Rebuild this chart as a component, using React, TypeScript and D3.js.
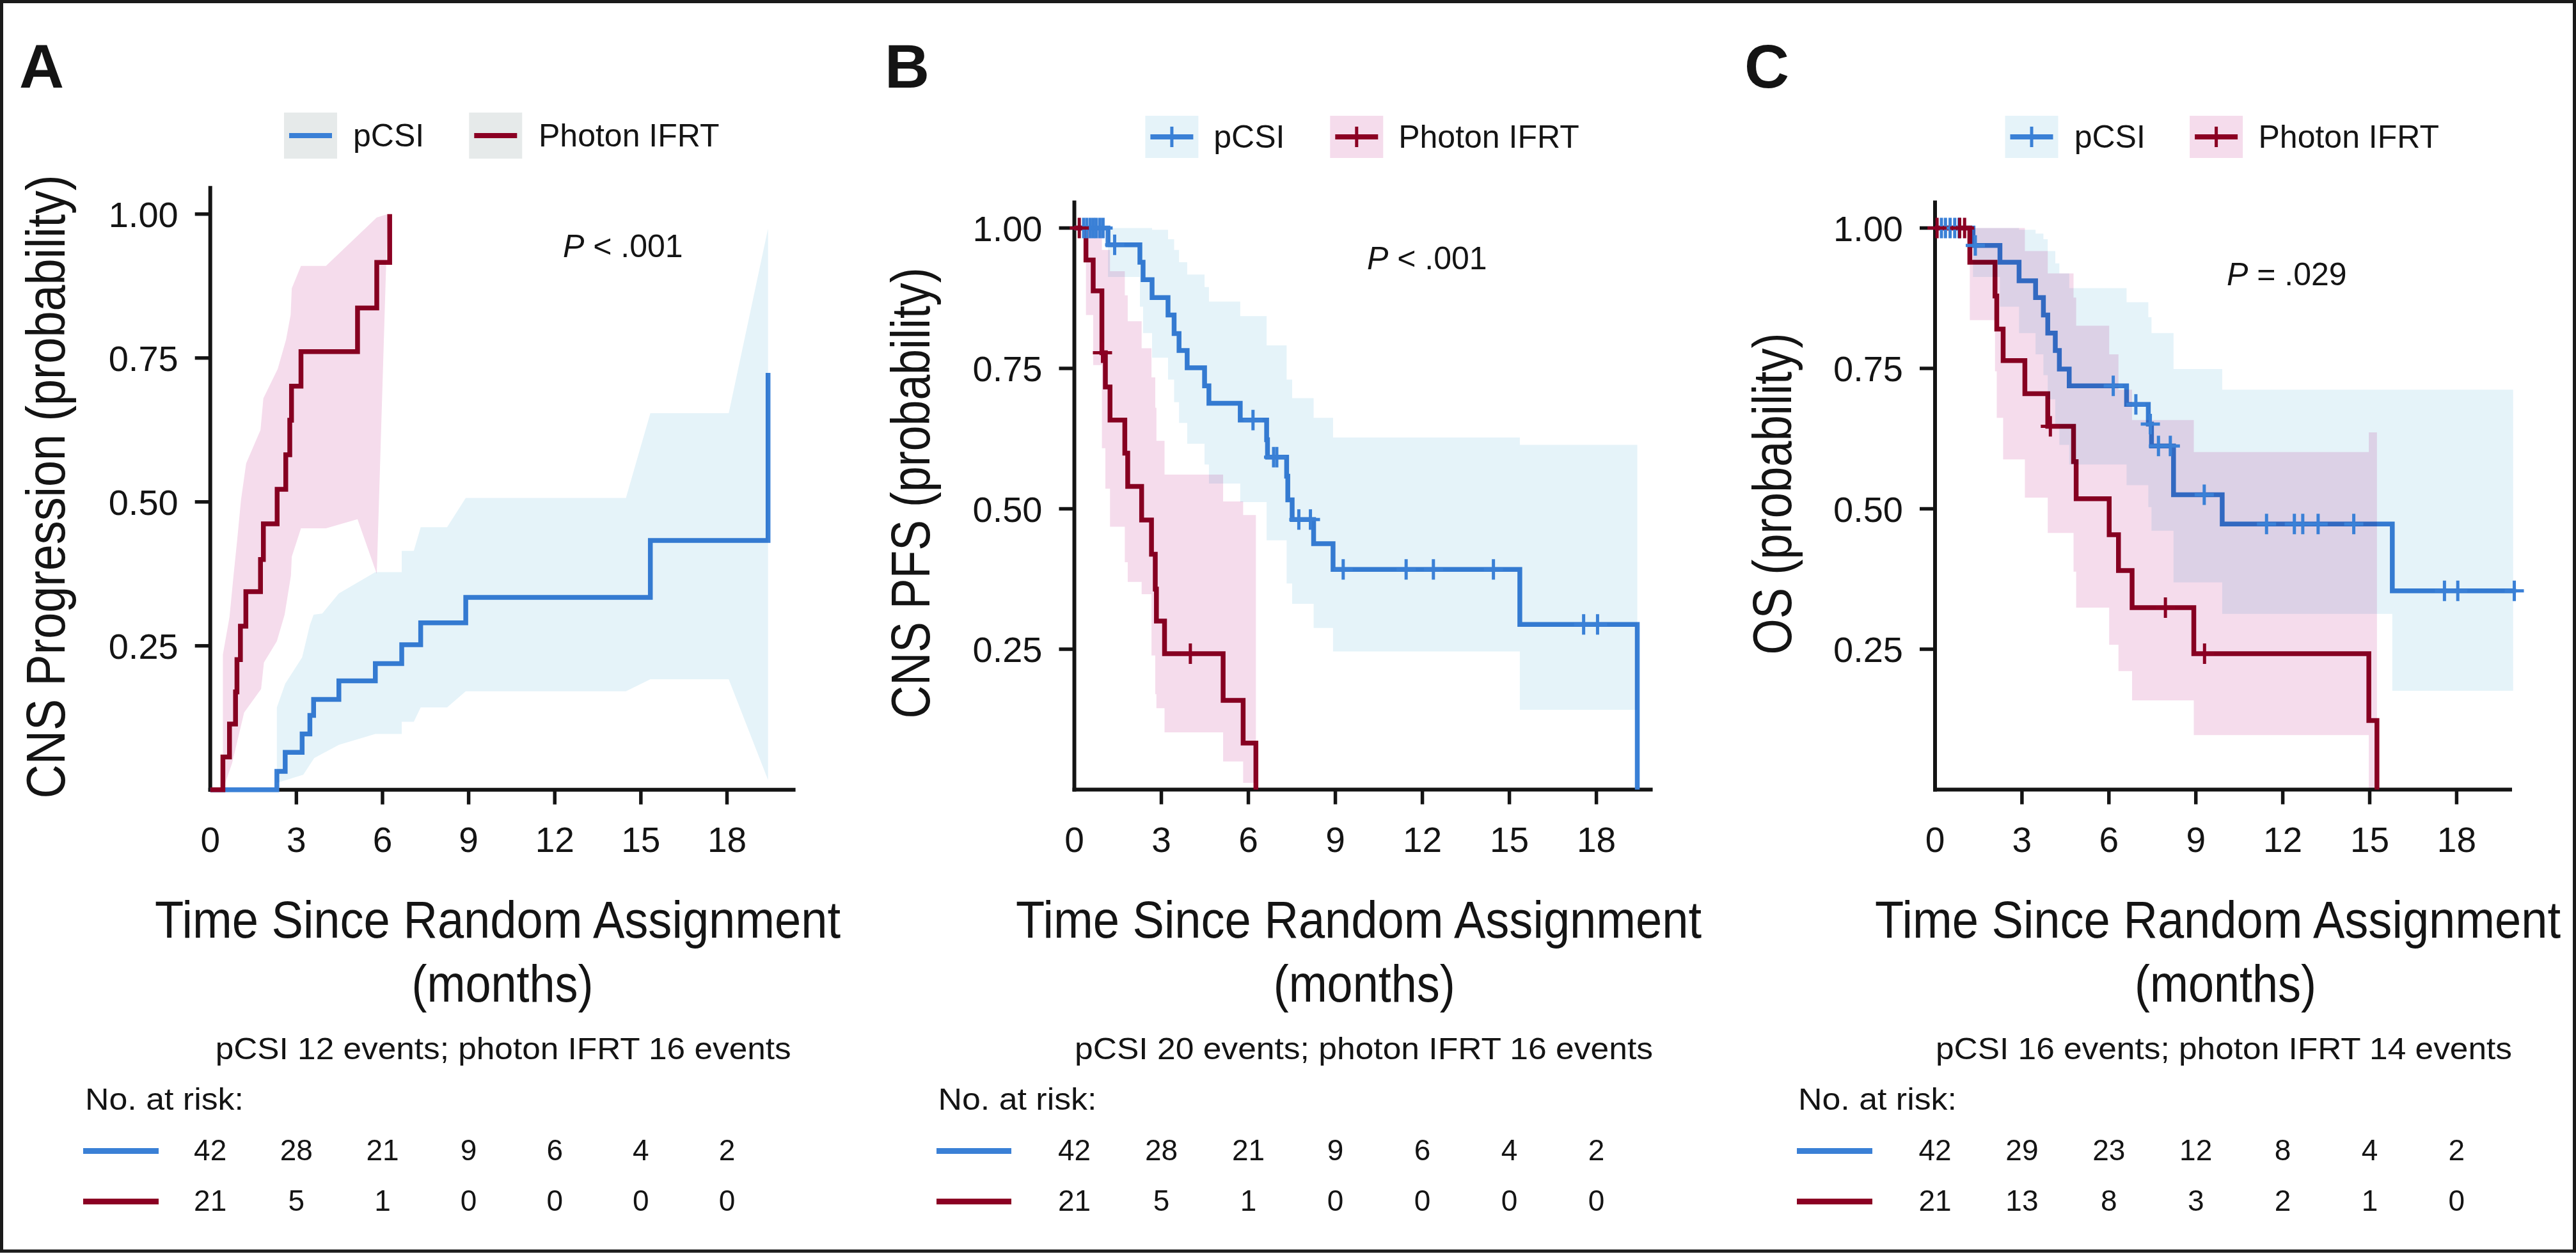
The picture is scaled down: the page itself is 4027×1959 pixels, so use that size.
import React, { useEffect } from 'react';
import * as d3 from 'd3';

type Pt = [number, number];
type Band = [number, number, number];

const BLUE = '#3a80d6';
const RED = '#8b0023';
const BAND_BLUE = '#e5f3f9';
const BAND_PINK = '#f5dcec';
const LEGEND_GRAY = '#e6eaea';
const INK = '#141414';
const FONT = '"Liberation Sans", Arial, Helvetica, sans-serif';

const xTicks = [0, 3, 6, 9, 12, 15, 18];
const yTicks = [0.25, 0.5, 0.75, 1.0];
const yTickLabels = ['0.25', '0.50', '0.75', '1.00'];
const groupNames = ['pCSI', 'Photon IFRT'];

// ---------- Panel A: CNS progression (cumulative incidence) ----------
const aBlueSteps: Pt[] = [[0, 0], [2.32, 0.032], [2.61, 0.065], [3.2, 0.097], [3.47, 0.129], [3.6, 0.157], [4.48, 0.189], [5.75, 0.219], [6.67, 0.252], [7.33, 0.29], [8.9, 0.334], [15.33, 0.433], [19.43, 0.724]];
const aRedSteps: Pt[] = [[0, 0], [0.44, 0.057], [0.67, 0.114], [0.88, 0.17], [0.93, 0.226], [1.05, 0.284], [1.24, 0.344], [1.75, 0.4], [1.85, 0.462], [2.33, 0.522], [2.63, 0.582], [2.77, 0.642], [2.83, 0.701], [3.16, 0.761], [5.13, 0.837], [5.8, 0.916], [6.25, 1.0]];
const aRedBandUpper: Pt[] = [[0.44, 0], [0.44, 0.235], [0.67, 0.3], [0.81, 0.372], [0.94, 0.435], [1.07, 0.503], [1.25, 0.567], [1.75, 0.625], [1.85, 0.68], [2.35, 0.731], [2.64, 0.782], [2.8, 0.825], [2.84, 0.871], [3.16, 0.91], [4.03, 0.91], [5.8, 0.994], [6.18, 1.0]];
const aRedBandLower: Pt[] = [[0.44, 0], [0.76, 0.046], [1.18, 0.134], [1.77, 0.175], [1.87, 0.221], [2.32, 0.258], [2.59, 0.304], [2.81, 0.372], [2.84, 0.405], [3.16, 0.454], [4.03, 0.454], [5.13, 0.47], [5.8, 0.375]];
const aBlueBandUpper: Pt[] = [[2.32, 0.012], [2.32, 0.143], [2.61, 0.184], [3.2, 0.23], [3.47, 0.286], [3.6, 0.304], [3.9, 0.306], [4.48, 0.341], [5.75, 0.378], [6.67, 0.378], [6.67, 0.415], [7.09, 0.415], [7.33, 0.456], [8.25, 0.456], [8.9, 0.507], [14.48, 0.507], [15.33, 0.654], [18.06, 0.654], [19.43, 0.975]];
const aBlueBandLower: Pt[] = [[2.32, 0.012], [3.24, 0.026], [3.62, 0.055], [4.48, 0.078], [5.75, 0.097], [6.67, 0.097], [6.67, 0.118], [7.09, 0.118], [7.33, 0.143], [8.25, 0.143], [8.9, 0.171], [14.48, 0.171], [15.33, 0.192], [18.06, 0.192], [19.43, 0.017]];
const aRiskBlue = [42, 28, 21, 9, 6, 4, 2];
const aRiskRed = [21, 5, 1, 0, 0, 0, 0];

// ---------- Panel B: CNS PFS ----------
const bBlueSteps: Pt[] = [[0, 1], [1.16, 0.97], [2.26, 0.939], [2.37, 0.908], [2.68, 0.876], [3.23, 0.845], [3.44, 0.812], [3.61, 0.782], [3.89, 0.751], [4.49, 0.719], [4.64, 0.688], [5.72, 0.658], [6.63, 0.623], [6.66, 0.592], [7.32, 0.558], [7.36, 0.516], [7.51, 0.481], [8.25, 0.438], [8.92, 0.392], [15.36, 0.294], [19.41, 0]];
const bBlueCensor: Pt[] = [[0.32, 1], [0.43, 1], [0.55, 1], [0.66, 1], [0.76, 1], [0.88, 1], [0.99, 1], [1.39, 0.97], [6.16, 0.658], [6.87, 0.592], [6.98, 0.592], [7.74, 0.481], [8.14, 0.481], [9.27, 0.392], [11.44, 0.392], [12.38, 0.392], [14.45, 0.392], [17.56, 0.294], [18.04, 0.294]];
const bRedSteps: Pt[] = [[0, 1], [0.4, 0.943], [0.65, 0.888], [0.95, 0.778], [1.07, 0.717], [1.23, 0.658], [1.74, 0.599], [1.84, 0.54], [2.32, 0.48], [2.66, 0.419], [2.79, 0.357], [2.83, 0.3], [3.11, 0.242], [5.13, 0.159], [5.82, 0.083], [6.26, 0]];
const bRedCensor: Pt[] = [[0.17, 1], [0.97, 0.778], [4.0, 0.242]];
const bBlueBand: Band[] = [[1.16, 0.913, 1.0], [2.26, 0.86, 1.0], [2.37, 0.813, 1.0], [2.68, 0.769, 0.997], [3.23, 0.73, 0.98], [3.44, 0.69, 0.961], [3.61, 0.653, 0.939], [3.89, 0.616, 0.917], [4.49, 0.579, 0.895], [4.64, 0.545, 0.869], [5.72, 0.512, 0.843], [6.63, 0.444, 0.791], [7.32, 0.367, 0.73], [7.51, 0.331, 0.697], [8.25, 0.288, 0.662], [8.92, 0.246, 0.627], [15.36, 0.142, 0.614], [19.41, 0.142, 0.614]];
const bRedBand: Band[] = [[0.4, 0.845, 1.0], [0.65, 0.756, 1.0], [0.95, 0.608, 0.961], [1.07, 0.536, 0.961], [1.23, 0.468, 0.923], [1.74, 0.405, 0.88], [1.84, 0.37, 0.834], [2.32, 0.348, 0.786], [2.66, 0.239, 0.734], [2.79, 0.17, 0.68], [2.83, 0.145, 0.621], [3.11, 0.102, 0.561], [5.13, 0.05, 0.513], [5.82, 0.012, 0.489], [6.26, 0.012, 0.489]];
const bRiskBlue = [42, 28, 21, 9, 6, 4, 2];
const bRiskRed = [21, 5, 1, 0, 0, 0, 0];

// ---------- Panel C: OS ----------
const cBlueSteps: Pt[] = [[0, 1], [1.31, 0.969], [2.24, 0.939], [2.9, 0.906], [3.47, 0.876], [3.74, 0.845], [3.89, 0.813], [4.15, 0.782], [4.29, 0.749], [4.63, 0.719], [6.61, 0.686], [7.36, 0.651], [7.47, 0.612], [8.23, 0.525], [9.91, 0.473], [15.78, 0.354], [20.05, 0.354]];
const cBlueCensor: Pt[] = [[0.22, 1], [0.36, 1], [0.52, 1], [0.68, 1], [0.83, 1], [1.39, 0.969], [6.15, 0.719], [6.93, 0.686], [7.43, 0.651], [7.71, 0.612], [8.12, 0.612], [9.29, 0.525], [11.44, 0.473], [12.4, 0.473], [12.69, 0.473], [13.22, 0.473], [14.45, 0.473], [17.58, 0.354], [18.04, 0.354], [19.99, 0.354]];
const cRedSteps: Pt[] = [[0, 1], [1.2, 0.939], [2.07, 0.879], [2.13, 0.82], [2.35, 0.764], [3.1, 0.705], [3.89, 0.647], [4.78, 0.584], [4.87, 0.518], [6.01, 0.454], [6.33, 0.39], [6.8, 0.324], [8.93, 0.242], [14.97, 0.123], [15.25, 0]];
const cRedCensor: Pt[] = [[0.07, 1], [0.85, 1], [1.02, 1], [3.98, 0.647], [7.95, 0.324], [9.3, 0.242]];
const cBlueBand: Band[] = [[1.31, 0.913, 1.0], [2.24, 0.86, 1.0], [2.9, 0.813, 0.997], [3.47, 0.775, 0.99], [3.74, 0.738, 0.98], [3.89, 0.695, 0.959], [4.15, 0.651, 0.937], [4.29, 0.614, 0.919], [4.63, 0.579, 0.893], [6.61, 0.542, 0.868], [7.36, 0.503, 0.841], [7.47, 0.461, 0.813], [8.23, 0.369, 0.749], [9.91, 0.313, 0.712], [15.78, 0.176, 0.712], [19.95, 0.176, 0.712]];
const cRedBand: Band[] = [[1.2, 0.836, 1.0], [2.07, 0.745, 1.0], [2.13, 0.662, 1.0], [2.35, 0.588, 1.0], [3.1, 0.52, 0.959], [3.89, 0.457, 0.919], [4.78, 0.388, 0.876], [4.87, 0.324, 0.826], [6.01, 0.258, 0.775], [6.33, 0.211, 0.712], [6.8, 0.159, 0.658], [8.93, 0.097, 0.601], [14.97, 0.0, 0.636], [15.25, 0.0, 0.636]];
const cRiskBlue = [42, 29, 23, 12, 8, 4, 2];
const cRiskRed = [21, 13, 8, 3, 2, 1, 0];

interface PanelDef {
  label: string; labelX: number;
  x0: number; x18: number; xEnd: number; y0: number; y1: number; yTop: number;
  legendY: number; legendH: number; patch1X: number; patch2X: number; text1X: number; text2X: number; legendLineY: number; legendTextY: number; gray: boolean;
  pX: number; pY: number; pText: string;
  yTitle: string; yTitleX: number; yTitleY: number; yTitleLen: number;
  xTitleCX: number; monthsCX: number; eventsText: string; eventsCX: number; eventsLen: number;
  riskLabelX: number; riskLineX1: number; riskLineX2: number;
  blueSteps: Pt[]; redSteps: Pt[]; blueCensor: Pt[]; redCensor: Pt[];
  blueBand?: Band[]; redBand?: Band[];
  bluePoly?: [Pt[], Pt[]]; redPoly?: [Pt[], Pt[]];
  riskBlue: number[]; riskRed: number[];
}

const panels: PanelDef[] = [
  {
    label: 'A', labelX: 30,
    x0: 328.7, x18: 1136.5, xEnd: 1243.6, y0: 1234.7, y1: 334.7, yTop: 290.7,
    legendY: 176, legendH: 72, patch1X: 444, patch2X: 733.3, text1X: 552, text2X: 842, legendLineY: 212, legendTextY: 229, gray: true,
    pX: 880, pY: 402, pText: ' < .001',
    yTitle: 'CNS Progression (probability)', yTitleX: 101, yTitleY: 761, yTitleLen: 975,
    xTitleCX: 778, monthsCX: 785.5, eventsText: 'pCSI 12 events; photon IFRT 16 events', eventsCX: 786.7, eventsLen: 900,
    riskLabelX: 133, riskLineX1: 130, riskLineX2: 248,
    blueSteps: aBlueSteps, redSteps: aRedSteps, blueCensor: [], redCensor: [],
    bluePoly: [aBlueBandUpper, aBlueBandLower], redPoly: [aRedBandUpper, aRedBandLower],
    riskBlue: aRiskBlue, riskRed: aRiskRed,
  },
  {
    label: 'B', labelX: 1383,
    x0: 1679.5, x18: 2495.6, xEnd: 2583.6, y0: 1234.5, y1: 356.5, yTop: 313.4,
    legendY: 181, legendH: 66, patch1X: 1790.4, patch2X: 2079.3, text1X: 1897.3, text2X: 2186.2, legendLineY: 214, legendTextY: 231, gray: false,
    pX: 2137, pY: 421, pText: ' < .001',
    yTitle: 'CNS PFS (probability)', yTitleX: 1453, yTitleY: 771, yTitleLen: 705,
    xTitleCX: 2124, monthsCX: 2132.7, eventsText: 'pCSI 20 events; photon IFRT 16 events', eventsCX: 2132, eventsLen: 904,
    riskLabelX: 1466.5, riskLineX1: 1464, riskLineX2: 1581,
    blueSteps: bBlueSteps, redSteps: bRedSteps, blueCensor: bBlueCensor, redCensor: bRedCensor,
    blueBand: bBlueBand, redBand: bRedBand,
    riskBlue: bRiskBlue, riskRed: bRiskRed,
  },
  {
    label: 'C', labelX: 2727,
    x0: 3025, x18: 3840.4, xEnd: 3927, y0: 1234.5, y1: 356.5, yTop: 313.4,
    legendY: 181, legendH: 66, patch1X: 3134.5, patch2X: 3423.1, text1X: 3242.7, text2X: 3530.5, legendLineY: 214, legendTextY: 231, gray: false,
    pX: 3481, pY: 446, pText: ' = .029',
    yTitle: 'OS (probability)', yTitleX: 2800, yTitleY: 772, yTitleLen: 503,
    xTitleCX: 3467, monthsCX: 3479, eventsText: 'pCSI 16 events; photon IFRT 14 events', eventsCX: 3476.5, eventsLen: 901,
    riskLabelX: 2811, riskLineX1: 2809, riskLineX2: 2927,
    blueSteps: cBlueSteps, redSteps: cRedSteps, blueCensor: cBlueCensor, redCensor: cRedCensor,
    blueBand: cBlueBand, redBand: cRedBand,
    riskBlue: cRiskBlue, riskRed: cRiskRed,
  },
];

function crossPath(cx: number, cy: number, hw: number, hh: number) {
  return `M${cx - hw},${cy}H${cx + hw}M${cx},${cy - hh}V${cy + hh}`;
}

function Panel({ p }: { p: PanelDef }) {
  const x = d3.scaleLinear().domain([0, 18]).range([p.x0, p.x18]);
  const y = d3.scaleLinear().domain([0, 1]).range([p.y0, p.y1]);
  const stepLine = d3.line<Pt>().x(d => x(d[0])).y(d => y(d[1])).curve(d3.curveStepAfter);
  const bandArea = d3.area<Band>().x(d => x(d[0])).y0(d => y(d[1])).y1(d => y(d[2])).curve(d3.curveStepAfter);
  const polyLine = d3.line<Pt>().x(d => x(d[0])).y(d => y(d[1]));
  const poly = (pp: [Pt[], Pt[]]) => polyLine([...pp[0], ...pp[1].slice().reverse()]) + 'Z';

  const patchW = 83;
  const blend: React.CSSProperties = { mixBlendMode: 'multiply' };
  const riskY1 = 1814, riskY2 = 1892.5;
  const lineY1 = 1799.4, lineY2 = 1878.6;

  return (
    <g>
      {/* panel label */}
      <text x={p.labelX} y={137} fontSize={97} fontWeight="bold" fill={INK}>{p.label}</text>

      {/* legend */}
      <rect x={p.patch1X} y={p.legendY} width={patchW} height={p.legendH} fill={p.gray ? LEGEND_GRAY : BAND_BLUE} />
      <rect x={p.patch2X} y={p.legendY} width={patchW} height={p.legendH} fill={p.gray ? LEGEND_GRAY : BAND_PINK} />
      <line x1={p.patch1X + 8} x2={p.patch1X + patchW - 8} y1={p.legendLineY} y2={p.legendLineY} stroke={BLUE} strokeWidth={8} />
      <line x1={p.patch2X + 8} x2={p.patch2X + patchW - 8} y1={p.legendLineY} y2={p.legendLineY} stroke={RED} strokeWidth={8} />
      {!p.gray && (
        <>
          <path d={crossPath(p.patch1X + patchW / 2, p.legendLineY, 0, 16)} stroke={BLUE} strokeWidth={5} />
          <path d={crossPath(p.patch2X + patchW / 2, p.legendLineY, 0, 16)} stroke={RED} strokeWidth={5} />
        </>
      )}
      <text x={p.text1X} y={p.legendTextY} fontSize={50} fill={INK}>{groupNames[0]}</text>
      <text x={p.text2X} y={p.legendTextY} fontSize={50} fill={INK}>{groupNames[1]}</text>

      {/* p value */}
      <text x={p.pX} y={p.pY} fontSize={50} fill={INK}>
        <tspan fontStyle="italic">P</tspan>
        <tspan>{p.pText}</tspan>
      </text>

      {/* axes */}
      <line x1={p.x0} x2={p.x0} y1={p.yTop} y2={p.y0 + 3} stroke={INK} strokeWidth={6} />
      <line x1={p.x0 - 3} x2={p.xEnd} y1={p.y0} y2={p.y0} stroke={INK} strokeWidth={6} />
      {yTicks.map((t, i) => (
        <g key={'yt' + i}>
          <line x1={p.x0 - 24} x2={p.x0} y1={y(t)} y2={y(t)} stroke={INK} strokeWidth={5.5} />
          <text x={p.x0 - 50} y={y(t) + 20} fontSize={56} textAnchor="end" fill={INK}>{yTickLabels[i]}</text>
        </g>
      ))}
      {xTicks.map((t, i) => (
        <g key={'xt' + i}>
          {t > 0 && <line x1={x(t)} x2={x(t)} y1={p.y0} y2={p.y0 + 23} stroke={INK} strokeWidth={5.5} />}
          <text x={x(t)} y={1331.5} fontSize={55} textAnchor="middle" fill={INK}>{t}</text>
        </g>
      ))}

      {/* y title */}
      <text transform={`translate(${p.yTitleX},${p.yTitleY}) rotate(-90)`} fontSize={86} textAnchor="middle" fill={INK}
        textLength={p.yTitleLen} lengthAdjust="spacingAndGlyphs">{p.yTitle}</text>

      {/* curves */}
      <path d={stepLine(p.blueSteps) || ''} fill="none" stroke={BLUE} strokeWidth={7.5} />
      <path d={stepLine(p.redSteps) || ''} fill="none" stroke={RED} strokeWidth={7.5} />

      {/* confidence bands */}
      {p.bluePoly && <path d={poly(p.bluePoly)} fill={BAND_BLUE} style={blend} />}
      {p.redPoly && <path d={poly(p.redPoly)} fill={BAND_PINK} style={blend} />}
      {p.blueBand && <path d={bandArea(p.blueBand) || ''} fill={BAND_BLUE} style={blend} />}
      {p.redBand && <path d={bandArea(p.redBand) || ''} fill={BAND_PINK} style={blend} />}

      {/* censor marks */}
      {p.blueCensor.map((c, i) => (
        <path key={'bc' + i} d={crossPath(x(c[0]), y(c[1]), 15, 16)} stroke={BLUE} strokeWidth={5} />
      ))}
      {p.redCensor.map((c, i) => (
        <path key={'rc' + i} d={crossPath(x(c[0]), y(c[1]), 15, 16)} stroke={RED} strokeWidth={5} />
      ))}

      {/* x title */}
      <text x={p.xTitleCX} y={1466} fontSize={81} textAnchor="middle" fill={INK} textLength={1072} lengthAdjust="spacingAndGlyphs">Time Since Random Assignment</text>
      <text x={p.monthsCX} y={1565.5} fontSize={81} textAnchor="middle" fill={INK} textLength={284} lengthAdjust="spacingAndGlyphs">(months)</text>

      {/* events */}
      <text x={p.eventsCX} y={1656} fontSize={48} textAnchor="middle" fill={INK} textLength={p.eventsLen} lengthAdjust="spacingAndGlyphs">{p.eventsText}</text>

      {/* risk table */}
      <text x={p.riskLabelX} y={1735} fontSize={49} fill={INK} textLength={248} lengthAdjust="spacingAndGlyphs">No. at risk:</text>
      <line x1={p.riskLineX1} x2={p.riskLineX2} y1={lineY1} y2={lineY1} stroke={BLUE} strokeWidth={9} />
      <line x1={p.riskLineX1} x2={p.riskLineX2} y1={lineY2} y2={lineY2} stroke={RED} strokeWidth={9} />
      {xTicks.map((t, i) => (
        <g key={'rk' + i}>
          <text x={x(t)} y={riskY1} fontSize={46} textAnchor="middle" fill={INK}>{p.riskBlue[i]}</text>
          <text x={x(t)} y={riskY2} fontSize={46} textAnchor="middle" fill={INK}>{p.riskRed[i]}</text>
        </g>
      ))}
    </g>
  );
}

export default function App() {
  useEffect(() => {
    document.body.style.margin = '0';
    document.body.style.overflow = 'hidden';
  }, []);
  return (
    <svg width={4027} height={1959} viewBox="0 0 4027 1959" style={{ display: 'block', isolation: 'isolate', background: '#fff' }}
      fontFamily={FONT}>
      <rect x={0} y={0} width={4027} height={1959} fill="#fff" />
      {panels.map(p => <Panel key={p.label} p={p} />)}
      <rect x={2.5} y={2.5} width={4022} height={1953.5} fill="none" stroke="#1a1a1a" strokeWidth={5} />
    </svg>
  );
}
